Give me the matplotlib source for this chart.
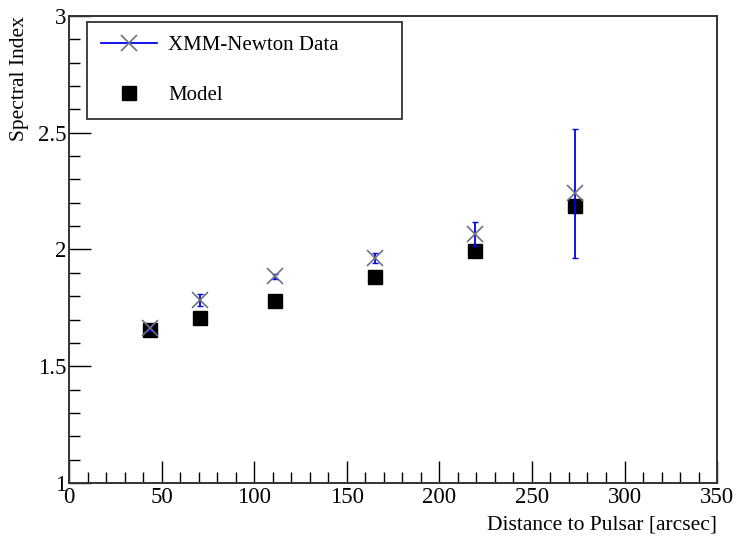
import numpy as np
import matplotlib
matplotlib.use('Agg')
import matplotlib.pyplot as plt
from matplotlib.ticker import MultipleLocator
from matplotlib.lines import Line2D

plt.rcParams['font.family'] = ['Liberation Serif', 'DejaVu Serif']

# distance to pulsar [arcsec]
dist_data = [44, 71, 111, 165, 219, 273]
index_data = [1.663, 1.783, 1.885, 1.963, 2.067, 2.241]
index_err = [0.010, 0.025, 0.012, 0.020, 0.050, 0.277]

dist_model = [44, 71, 111, 165, 219, 273]
index_model = [1.655, 1.705, 1.778, 1.882, 1.994, 2.187]

fig = plt.figure(figsize=(7.37, 5.37), dpi=100)
ax = fig.add_axes([0.0936, 0.1006, 0.8794, 0.8696])

ax.errorbar(dist_data, index_data, yerr=index_err, fmt='none', ecolor='#0000ee',
            elinewidth=1.3, capsize=2.5, capthick=1.0, zorder=3)
ax.plot(dist_data, index_data, ls='none', marker='x', ms=11, mew=1.2,
        color='#707080', zorder=4)
ax.plot(dist_model, index_model, ls='none', marker='s', ms=10,
        color='black', zorder=2)

ax.set_xlim(0, 350)
ax.set_ylim(1, 3)
ax.xaxis.set_major_locator(MultipleLocator(50))
ax.xaxis.set_minor_locator(MultipleLocator(10))
ax.yaxis.set_minor_locator(MultipleLocator(0.1))
ax.set_yticks([1, 1.5, 2, 2.5, 3])
ax.set_yticklabels(['1', '1.5', '2', '2.5', '3'])
ax.tick_params(which='both', direction='in', top=False, right=False,
               labelsize=16.5, pad=3)
ax.tick_params(axis='y', pad=2)
ax.tick_params(which='major', length=16, width=1)
ax.tick_params(which='minor', length=8, width=1)
for s in ax.spines.values():
    s.set_linewidth(1.4)
    s.set_color('#333333')

ax.set_xlabel('Distance to Pulsar [arcsec]', fontsize=15.5, loc='right', labelpad=5)
ax.set_ylabel('Spectral Index', fontsize=15.5, loc='top', labelpad=6)

# legend box like ROOT's TLegend
h1 = Line2D([], [], color='#0000ee', lw=1.3, marker='x', ms=11, mew=1.2,
            markeredgecolor='#707080')
h2 = Line2D([], [], ls='none', marker='s', ms=10, color='black')
leg = ax.legend([h1, h2], ['XMM-Newton Data', 'Model'], loc='upper left',
                bbox_to_anchor=(0.028, 0.777, 0.486, 0.21), mode='expand',
                fontsize=15, frameon=True, fancybox=False, borderpad=0.65,
                labelspacing=1.45, handlelength=2.7, handletextpad=0.55,
                borderaxespad=0)
leg.get_frame().set_edgecolor('black')
leg.get_frame().set_linewidth(1.3)

fig.savefig('out.png', dpi=100)
